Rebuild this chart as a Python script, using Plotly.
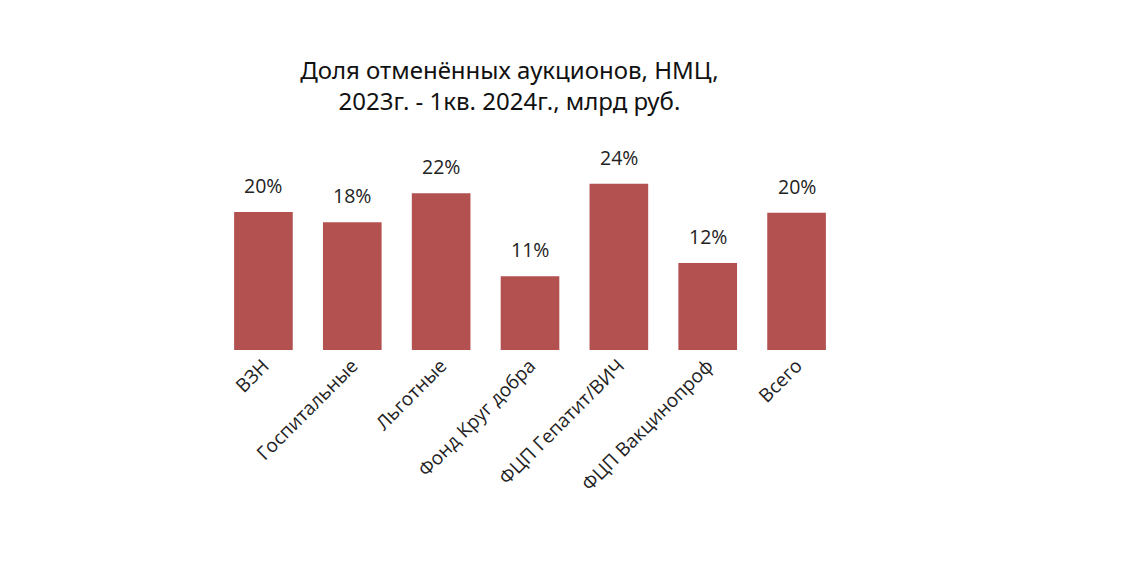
import plotly.graph_objects as go

categories = ["ВЗН", "Госпитальные", "Льготные", "Фонд Круг добра",
              "ФЦП Гепатит/ВИЧ", "ФЦП Вакцинопроф", "Всего"]
shares = [0.200, 0.185, 0.227, 0.107, 0.241, 0.126, 0.199]
labels = ["20%", "18%", "22%", "11%", "24%", "12%", "20%"]

bar_color = "#B35151"

fig = go.Figure()
fig.add_trace(go.Bar(x=categories, y=shares, marker_color=bar_color,
                     marker_line_width=0, width=0.66))

# value labels sit a bit above each bar
for c, v, t in zip(categories, shares, labels):
    fig.add_annotation(x=c, y=v, text=t, showarrow=False, yanchor="bottom",
                       yshift=11, font=dict(size=19.5, color="#222222",
                                            family="Open Sans"))

fig.update_layout(
    width=1137, height=574, autosize=False,
    margin=dict(l=211, r=304, t=135, b=232),
    paper_bgcolor="white", plot_bgcolor="white",
    showlegend=False,
    title=dict(text="Доля отменённых аукционов, НМЦ,<br>2023г. - 1кв. 2024г., млрд руб.",
               x=0.441, xanchor="center", y=0.877, yanchor="top",
               font=dict(size=24, color="#111111", family="Noto Sans")),
    xaxis=dict(tickangle=-45, showgrid=False, showline=False, ticks="",
               tickfont=dict(size=19, color="#222222", family="Open Sans")),
    yaxis=dict(range=[0, 0.30], visible=False, showgrid=False),
)

fig.write_html("out.html")
